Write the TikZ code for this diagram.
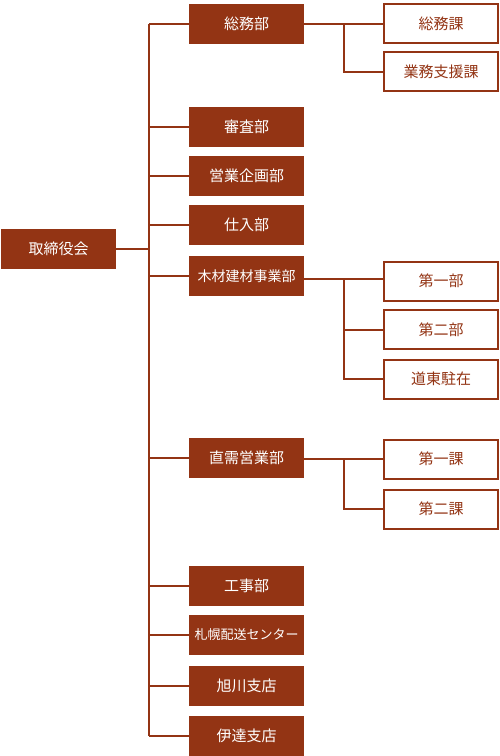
\documentclass[tikz,border=0pt]{standalone}
\usepackage{fontspec}
\setmainfont{Noto Sans CJK JP}
\definecolor{brn}{RGB}{147,52,20}
\begin{document}
\begin{tikzpicture}[x=1pt,y=-1pt,
  mainbox/.style={fill=brn,draw=none,text=white,minimum width=115pt,minimum height=40pt,inner sep=0pt,font=\fontsize{15}{17}\selectfont},
  subbox/.style={fill=white,draw=brn,line width=2pt,text=brn,minimum width=114pt,minimum height=39pt,inner sep=0pt,font=\fontsize{15}{17}\selectfont},
  conn/.style={draw=brn,line width=2pt}]
\useasboundingbox (0,0) rectangle (500,756);
% board
\node[mainbox] (board) at (58.5,248.5) {取締役会};
% main column
\node[mainbox] (m1) at (246.5,24) {総務部};
\node[mainbox] (m2) at (246.5,127) {審査部};
\node[mainbox] (m3) at (246.5,175.5) {営業企画部};
\node[mainbox] (m4) at (246.5,224.5) {仕入部};
\node[mainbox,font=\fontsize{14}{16}\selectfont] (m5) at (246.5,276) {木材建材事業部};
\node[mainbox] (m6) at (246.5,458) {直需営業部};
\node[mainbox] (m7) at (246.5,585.5) {工事部};
\node[mainbox,font=\fontsize{13}{15}\selectfont] (m8) at (246.5,634.5) {札幌配送センター};
\node[mainbox] (m9) at (246.5,685.5) {旭川支店};
\node[mainbox] (m10) at (246.5,736) {伊達支店};
% sub boxes
\node[subbox] (s11) at (441,23.5) {総務課};
\node[subbox] (s12) at (441,71.5) {業務支援課};
\node[subbox] (s51) at (441,281) {第一部};
\node[subbox] (s52) at (441,329.5) {第二部};
\node[subbox] (s53) at (441,379) {道東駐在};
\node[subbox] (s61) at (441,459) {第一課};
\node[subbox] (s62) at (441,509) {第二課};
% trunk
\coordinate (ttop) at (149,24);
\coordinate (tbot) at (149,736);
\coordinate (fork) at (344,0);
\draw[conn] (ttop) -- (tbot);
\draw[conn] (board.east) -- (board.east -| ttop);
\foreach \m in {m1,m2,m3,m4,m5,m6,m7,m8,m9,m10}{
  \draw[conn] (\m.west) -- (\m.west -| ttop);
}
% branches
\draw[conn] (m1.east |- s11.west) -- (s11.west);
\draw[conn] (fork |- s11.west) |- (s12.west);
\draw[conn] (m5.east |- 0,279) -- (s51.west |- 0,279);
\draw[conn] (fork |- 0,279) |- (s53.west);
\draw[conn] (fork |- s52.west) -- (s52.west);
\draw[conn] (m6.east |- s61.west) -- (s61.west);
\draw[conn] (fork |- s61.west) |- (s62.west);
\end{tikzpicture}
\end{document}
